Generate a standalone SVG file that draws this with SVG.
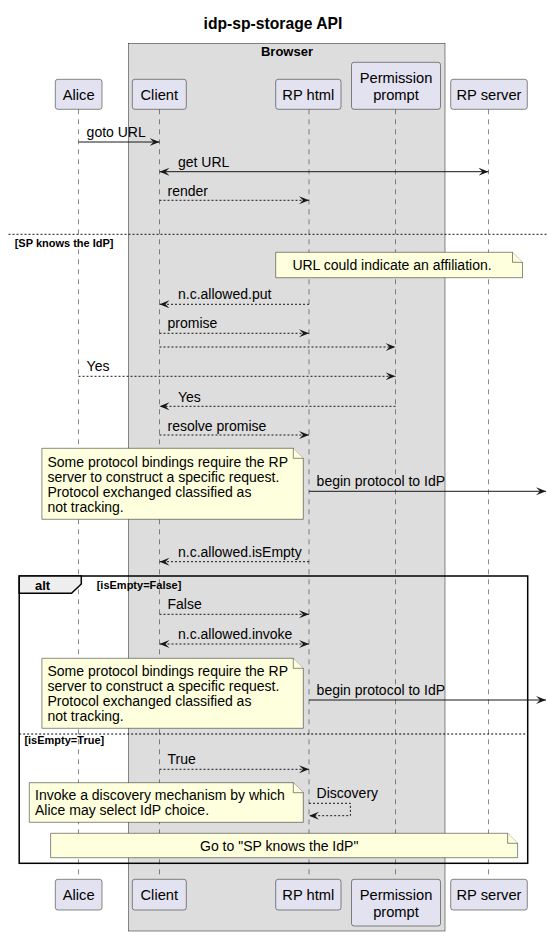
<svg xmlns="http://www.w3.org/2000/svg" width="547" height="936" viewBox="0 0 547 936">
<defs>
<marker id="arr" markerUnits="userSpaceOnUse" markerWidth="12" markerHeight="10" refX="10" refY="4" orient="auto-start-reverse" viewBox="0 0 12 10">
<path d="M0,0 L10,4 L0,8 L4,4 Z" fill="#181818"/>
</marker>
</defs>
<style>
text{font-family:"Liberation Sans",Arial,sans-serif;fill:#000}
.title{font-size:15.7px;font-weight:bold}
.part rect{fill:#E2E2F0;stroke:#181818;stroke-width:0.5}
.part text{font-size:14.7px;text-anchor:middle}
.life{stroke:#181818;stroke-width:0.5;stroke-dasharray:5,5}
.msg{stroke:#181818;stroke-width:1;fill:none}
.dash{stroke-dasharray:2,2}
.lbl{font-size:14px}
.note path{fill:#FEFFDD;stroke:#181818;stroke-width:0.5}
.note text{font-size:14px}
.grp{font-size:11px;font-weight:bold}
</style>
<rect width="547" height="936" fill="#FFFFFF"/>
<text class="title" x="273" y="28.5" text-anchor="middle">idp-sp-storage API</text>

<g id="browser">
<rect x="128.5" y="43.3" width="316.5" height="887.7" fill="#DDDDDD" stroke="#181818" stroke-width="0.5"/>
<text x="287" y="55.5" text-anchor="middle" font-size="13" font-weight="bold">Browser</text>
</g>

<g id="lifelines">
<line class="life" x1="78.5" y1="109.3" x2="78.5" y2="879.3"/>
<line class="life" x1="159.5" y1="109.3" x2="159.5" y2="879.3"/>
<line class="life" x1="309" y1="109.3" x2="309" y2="879.3"/>
<line class="life" x1="395.5" y1="109.3" x2="395.5" y2="879.3"/>
<line class="life" x1="488.5" y1="109.3" x2="488.5" y2="879.3"/>
</g>

<g id="alice" class="part">
<rect x="55.3" y="79.3" width="46.7" height="30" rx="2.5"/>
<text x="78.7" y="100">Alice</text>
<rect x="55.3" y="879.3" width="46.7" height="30.7" rx="2.5"/>
<text x="78.7" y="900">Alice</text>
</g>
<g id="client" class="part">
<rect x="132.3" y="79.3" width="54" height="30" rx="2.5"/>
<text x="159.3" y="100">Client</text>
<rect x="132.3" y="879.3" width="54" height="30.7" rx="2.5"/>
<text x="159.3" y="900">Client</text>
</g>
<g id="rphtml" class="part">
<rect x="275.7" y="79.3" width="65.3" height="30" rx="2.5"/>
<text x="308.3" y="100">RP html</text>
<rect x="275.7" y="879.3" width="65.3" height="30.7" rx="2.5"/>
<text x="308.3" y="900">RP html</text>
</g>
<g id="permission" class="part">
<rect x="351.5" y="62.3" width="89" height="47" rx="2.5"/>
<text x="396" y="83.3">Permission</text>
<text x="396" y="100">prompt</text>
<rect x="351.5" y="879.3" width="89" height="46.7" rx="2.5"/>
<text x="396" y="899.5">Permission</text>
<text x="396" y="916.5">prompt</text>
</g>
<g id="rpserver" class="part">
<rect x="450.7" y="79.3" width="76.6" height="30" rx="2.5"/>
<text x="489" y="100">RP server</text>
<rect x="450.7" y="879.3" width="76.6" height="30.7" rx="2.5"/>
<text x="489" y="900">RP server</text>
</g>

<g id="sep-sp">
<line x1="8.5" y1="234.3" x2="547" y2="234.3" stroke="#181818" stroke-width="1" stroke-dasharray="2,2"/>
<text class="grp" x="14.7" y="246.5">[SP knows the IdP]</text>
</g>

<g id="note-url" class="note">
<path d="M275.7,252.3 L512.5,252.3 L522.5,262.3 L522.5,277.7 L275.7,277.7 Z"/>
<path d="M512.5,252.3 L512.5,262.3 L522.5,262.3"/>
<text x="392" y="269.5" text-anchor="middle">URL could indicate an affiliation.</text>
</g>

<g id="alt-frame">
<rect x="19.2" y="576" width="508.5" height="287.3" fill="none" stroke="#000" stroke-width="1.5"/>
<path d="M19.2,576 L81.3,576 L81.3,584 L71.5,593.3 L19.2,593.3 Z" fill="#EEEEEE" stroke="#000" stroke-width="1.5"/>
<text x="35" y="590" font-size="13" font-weight="bold">alt</text>
<text class="grp" x="96.7" y="589">[isEmpty=False]</text>
<line x1="19.2" y1="734" x2="527.7" y2="734" stroke="#000" stroke-width="1" stroke-dasharray="2,2"/>
<text class="grp" x="24.4" y="744">[isEmpty=True]</text>
</g>

<g id="note-proto1" class="note">
<path d="M41.9,448.3 L293.3,448.3 L303.3,458.3 L303.3,519.3 L41.9,519.3 Z"/>
<path d="M293.3,448.3 L293.3,458.3 L303.3,458.3"/>
<text x="47.5" y="466.7">Some protocol bindings require the RP</text>
<text x="47.5" y="481.7">server to construct a specific request.</text>
<text x="47.5" y="496.7">Protocol exchanged classified as</text>
<text x="47.5" y="511.7">not tracking.</text>
</g>

<g id="note-proto2" class="note">
<path d="M41.9,658.3 L293.3,658.3 L303.3,668.3 L303.3,728.3 L41.9,728.3 Z"/>
<path d="M293.3,658.3 L293.3,668.3 L303.3,668.3"/>
<text x="47.5" y="675.5">Some protocol bindings require the RP</text>
<text x="47.5" y="690.5">server to construct a specific request.</text>
<text x="47.5" y="705.5">Protocol exchanged classified as</text>
<text x="47.5" y="720.5">not tracking.</text>
</g>

<g id="note-discovery" class="note">
<path d="M29.3,782.7 L293.3,782.7 L303.3,792.7 L303.3,822.3 L29.3,822.3 Z"/>
<path d="M293.3,782.7 L293.3,792.7 L303.3,792.7"/>
<text x="35" y="800">Invoke a discovery mechanism by which</text>
<text x="35" y="815">Alice may select IdP choice.</text>
</g>

<g id="note-goto" class="note">
<path d="M50.6,833.3 L507.6,833.3 L517.6,843.3 L517.6,857.7 L50.6,857.7 Z"/>
<path d="M507.6,833.3 L507.6,843.3 L517.6,843.3"/>
<text x="279.2" y="850.5" text-anchor="middle">Go to "SP knows the IdP"</text>
</g>

<g id="connectors">
<line class="msg" x1="78.5" y1="142" x2="159.5" y2="142" marker-end="url(#arr)"/>
<text class="lbl" x="86.6" y="136.5">goto URL</text>
<line class="msg" x1="159.5" y1="171.7" x2="488.5" y2="171.7" marker-start="url(#arr)" marker-end="url(#arr)"/>
<text class="lbl" x="178" y="166.5">get URL</text>
<line class="msg dash" x1="159.5" y1="200.3" x2="309" y2="200.3" marker-end="url(#arr)"/>
<text class="lbl" x="167.5" y="195.5">render</text>

<line class="msg dash" x1="309" y1="304.3" x2="159.5" y2="304.3" marker-end="url(#arr)"/>
<text class="lbl" x="178" y="299">n.c.allowed.put</text>
<line class="msg dash" x1="159.5" y1="333.3" x2="309" y2="333.3" marker-end="url(#arr)"/>
<text class="lbl" x="167.5" y="328.3">promise</text>
<line class="msg dash" x1="159.5" y1="347" x2="395.5" y2="347" marker-end="url(#arr)"/>
<line class="msg dash" x1="78.5" y1="376.3" x2="395.5" y2="376.3" marker-end="url(#arr)"/>
<text class="lbl" x="86.6" y="371">Yes</text>
<line class="msg dash" x1="395.5" y1="406.3" x2="159.5" y2="406.3" marker-end="url(#arr)"/>
<text class="lbl" x="178" y="401.5">Yes</text>
<line class="msg dash" x1="159.5" y1="435" x2="309" y2="435" marker-end="url(#arr)"/>
<text class="lbl" x="167.5" y="430.5">resolve promise</text>

<line class="msg" x1="309" y1="491.3" x2="546" y2="491.3" marker-end="url(#arr)"/>
<text class="lbl" x="316.6" y="485.5">begin protocol to IdP</text>

<line class="msg dash" x1="309" y1="561.7" x2="159.5" y2="561.7" marker-end="url(#arr)"/>
<text class="lbl" x="178" y="556.5">n.c.allowed.isEmpty</text>

<line class="msg dash" x1="159.5" y1="614.3" x2="309" y2="614.3" marker-end="url(#arr)"/>
<text class="lbl" x="167.5" y="609">False</text>
<line class="msg dash" x1="159.5" y1="644" x2="309" y2="644" marker-start="url(#arr)" marker-end="url(#arr)"/>
<text class="lbl" x="178" y="639">n.c.allowed.invoke</text>

<line class="msg" x1="309" y1="700" x2="546" y2="700" marker-end="url(#arr)"/>
<text class="lbl" x="316.6" y="694.5">begin protocol to IdP</text>

<line class="msg dash" x1="159.5" y1="769.3" x2="309" y2="769.3" marker-end="url(#arr)"/>
<text class="lbl" x="167.5" y="764">True</text>

<polyline class="msg dash" points="309,803.3 350.4,803.3 350.4,815.7 309,815.7" marker-end="url(#arr)"/>
<text class="lbl" x="316.6" y="798.3">Discovery</text>
</g>
</svg>
